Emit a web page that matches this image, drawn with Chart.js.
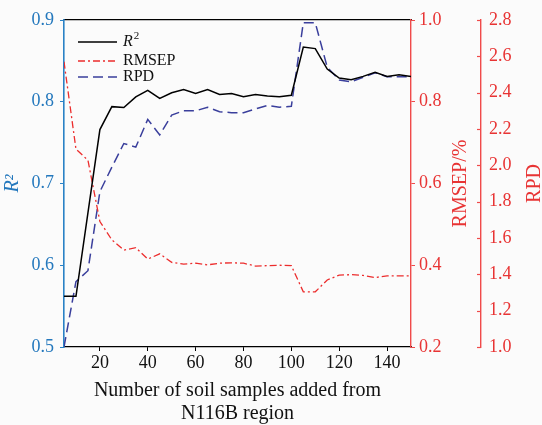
<!DOCTYPE html>
<html>
<head>
<meta charset="utf-8">
<script src="https://cdn.jsdelivr.net/npm/chart.js@4.4.1/dist/chart.umd.min.js"></script>
<style>
  body { margin: 0; background: #fbfbfb; }
  #wrap { width: 542px; height: 425px; }
</style>
</head>
<body>
<div id="wrap"><canvas id="chart"></canvas></div>
<script>
// valores
const samples = [5, 10, 15, 20, 25, 30, 35, 40, 45, 50,
                 55, 60, 65, 70, 75, 80, 85, 90, 95, 100,
                 105, 110, 115, 120, 125, 130, 135, 140, 145, 150];
const r2 = [0.562, 0.562, 0.664, 0.766, 0.794, 0.793, 0.806, 0.814, 0.804, 0.811,
            0.815, 0.810, 0.815, 0.809, 0.810, 0.806, 0.809, 0.807, 0.806, 0.808,
            0.867, 0.865, 0.840, 0.829, 0.827, 0.831, 0.836, 0.831, 0.833, 0.831];
const rmsep = [0.898, 0.684, 0.657, 0.507, 0.462, 0.437, 0.443, 0.415, 0.428, 0.407,
               0.403, 0.405, 0.401, 0.405, 0.406, 0.405, 0.398, 0.399, 0.400, 0.399,
               0.335, 0.335, 0.364, 0.376, 0.377, 0.375, 0.370, 0.374, 0.374, 0.374];
const rpd = [1.00, 1.36, 1.42, 1.855, 1.99, 2.12, 2.10, 2.253, 2.167, 2.277,
             2.30, 2.30, 2.32, 2.295, 2.29, 2.29, 2.31, 2.33, 2.32, 2.325,
             2.785, 2.785, 2.54, 2.47, 2.46, 2.485, 2.51, 2.488, 2.488, 2.488];
const xTicks = [20, 40, 60, 80, 100, 120, 140];
const seriesNames = ['R2', 'RMSEP', 'RPD'];

const FONT = '"Liberation Serif"';
const BLUE_AXIS = '#2a82c6';
const BLUE_TEXT = '#2478bd';
const RED_AXIS = '#f04a4a';
const RED_TEXT = '#e83434';

function pts(ys) {
    return samples.map((x, i) => ({ x: x, y: ys[i] }));
}

// titulos da direita (de baixo para cima), ticks do RPD para dentro e legenda
const extraText = {
    id: 'extraText',
    afterDraw(chart) {
        const ctx = chart.ctx;
        const area = chart.chartArea;
        const midY = (area.top + area.bottom) / 2;
        ctx.save();

        const rpdScale = chart.scales.y2;
        ctx.strokeStyle = RED_AXIS;
        ctx.lineWidth = 1.2;
        rpdScale.ticks.forEach(t => {
            const py = Math.round(rpdScale.getPixelForValue(t.value)) + 0.5;
            ctx.beginPath();
            ctx.moveTo(rpdScale.left - 4, py);
            ctx.lineTo(rpdScale.left, py);
            ctx.stroke();
        });

        ctx.fillStyle = RED_TEXT;
        ctx.font = '20px ' + FONT;
        ctx.textAlign = 'center';
        ctx.textBaseline = 'middle';
        [['y1', 'RMSEP/%', 50], ['y2', 'RPD', 54]].forEach(([id, text, dx]) => {
            ctx.save();
            ctx.translate(chart.scales[id].left + dx, midY);
            ctx.rotate(-Math.PI / 2);
            ctx.fillText(text, 0, 0);
            ctx.restore();
        });

        const rows = [22, 41, 57];
        chart.data.datasets.forEach((ds, i) => {
            const y = area.top + rows[i];
            ctx.save();
            ctx.strokeStyle = ds.borderColor;
            ctx.lineWidth = ds.borderWidth;
            ctx.setLineDash(ds.borderDash || []);
            ctx.beginPath();
            ctx.moveTo(area.left + 14, y);
            ctx.lineTo(area.left + 53, y);
            ctx.stroke();
            ctx.restore();

            ctx.fillStyle = '#111';
            ctx.textAlign = 'left';
            const tx = area.left + 59;
            if (i === 0) {
                ctx.font = 'italic 16px ' + FONT;
                ctx.fillText('R', tx, y);
                const w = ctx.measureText('R').width;
                ctx.font = '11px ' + FONT;
                ctx.fillText('2', tx + w + 1, y - 6);
            } else {
                ctx.font = '16px ' + FONT;
                ctx.fillText(ds.label, tx, y);
            }
        });
        ctx.restore();
    }
};

const ctx = document.getElementById('chart').getContext('2d');
const chart = new Chart(ctx, {
    type: 'line',
    data: {
        datasets: [
            {
                label: seriesNames[0],
                data: pts(r2),
                yAxisID: 'y',
                borderColor: '#000000',
                borderWidth: 1.5,
                pointRadius: 0,
                tension: 0
            },
            {
                label: seriesNames[1],
                data: pts(rmsep),
                yAxisID: 'y1',
                borderColor: '#ec2d2d',
                borderWidth: 1.3,
                borderDash: [7, 3, 2, 3],
                pointRadius: 0,
                tension: 0
            },
            {
                label: seriesNames[2],
                data: pts(rpd),
                yAxisID: 'y2',
                borderColor: '#3a3f9c',
                borderWidth: 1.5,
                borderDash: [10, 5],
                pointRadius: 0,
                tension: 0
            }
        ]
    },
    options: {
        responsive: true,
        maintainAspectRatio: false,
        animation: false,
        layout: { padding: 0 },
        plugins: {
            legend: { display: false },
            tooltip: { enabled: false }
        },
        scales: {
            x: {
                type: 'linear',
                position: 'bottom',
                min: 5,
                max: 150,
                afterBuildTicks: s => { s.ticks = xTicks.map(v => ({ value: v })); },
                afterFit: s => { s.height = 78; },
                border: { color: '#000', width: 1.2 },
                grid: { drawOnChartArea: false, tickLength: 4, color: '#000' },
                ticks: {
                    color: '#111',
                    padding: 1,
                    maxRotation: 0,
                    font: { family: FONT, size: 18 }
                },
                title: {
                    display: true,
                    text: ['Number of soil samples added from', 'N116B region'],
                    color: '#111',
                    padding: { top: 0, bottom: 0 },
                    font: { family: FONT, size: 20, lineHeight: 1.15 }
                }
            },
            xTop: {
                type: 'linear',
                position: 'top',
                min: 5,
                max: 150,
                afterFit: s => { s.height = 20; },
                grid: { display: false },
                ticks: { display: false },
                border: { color: '#000', width: 1.2 }
            },
            y: {
                position: 'left',
                min: 0.5,
                max: 0.9,
                afterFit: s => { s.width = 64; },
                border: { color: BLUE_AXIS, width: 1.6 },
                grid: { drawOnChartArea: false, tickLength: 4, color: BLUE_AXIS },
                ticks: {
                    stepSize: 0.1,
                    color: BLUE_TEXT,
                    padding: 6,
                    font: { family: FONT, size: 18 },
                    callback: v => v.toFixed(1)
                },
                title: {
                    display: true,
                    text: 'R²',
                    color: BLUE_TEXT,
                    padding: { top: 1.5, bottom: 0 },
                    font: { family: FONT, size: 20, style: 'italic', lineHeight: 1.15 }
                }
            },
            y1: {
                position: 'right',
                weight: 0,
                min: 0.2,
                max: 1.0,
                afterFit: s => { s.width = 70; },
                border: { color: RED_AXIS, width: 1.4 },
                grid: { drawOnChartArea: false, tickLength: 4, color: RED_AXIS },
                ticks: {
                    stepSize: 0.2,
                    color: RED_TEXT,
                    padding: 4,
                    font: { family: FONT, size: 18 },
                    callback: v => v.toFixed(1)
                }
            },
            y2: {
                position: 'right',
                weight: 1,
                min: 1.0,
                max: 2.8,
                afterFit: s => { s.width = 61; },
                border: { color: RED_AXIS, width: 1.4 },
                grid: { drawOnChartArea: false, drawTicks: false, color: RED_AXIS },
                ticks: {
                    stepSize: 0.2,
                    color: RED_TEXT,
                    padding: 8,
                    font: { family: FONT, size: 18 },
                    callback: v => v.toFixed(1)
                }
            }
        }
    },
    plugins: [extraText]
});
</script>
</body>
</html>
